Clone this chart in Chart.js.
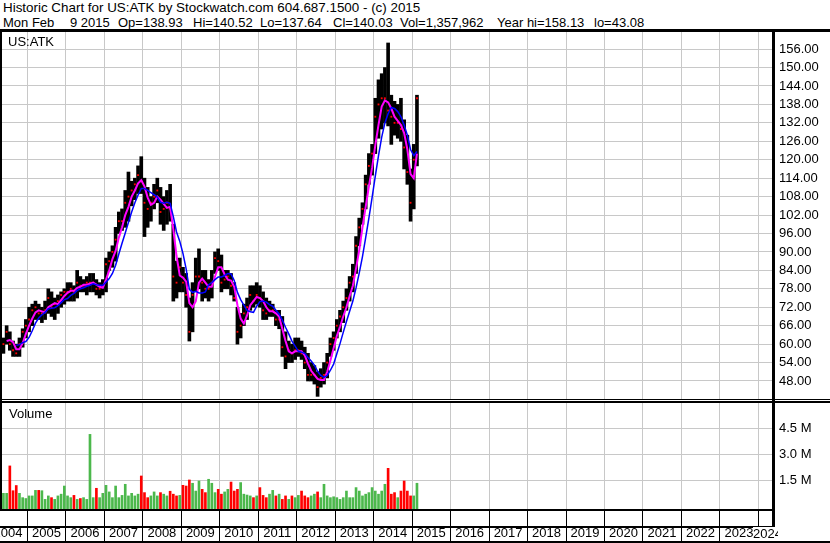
<!DOCTYPE html>
<html lang="en">
<head>
<meta charset="UTF-8">
<title>Historic Chart for US:ATK</title>
<script src="https://cdn.jsdelivr.net/npm/chart.js"></script>
<style>
  body { margin: 0; width: 830px; height: 543px; overflow: hidden; background: #fff; position: relative;
         font-family: "Liberation Sans", Arial, sans-serif; font-size: 13px; color: #000; }
  .abs { position: absolute; white-space: pre; line-height: 15px; }
  .ln { position: absolute; background: #000; }
</style>
</head>
<body>
<div class="abs" style="left:3px;top:0px;font-size:13.4px">Historic Chart for US:ATK by Stockwatch.com 604.687.1500 - (c) 2015</div>
<div class="abs" style="left:3px;top:15px">Mon Feb</div>
<div class="abs" style="left:70px;top:15px">9 2015</div>
<div class="abs" style="left:118px;top:15px">Op=138.93</div>
<div class="abs" style="left:193px;top:15px">Hi=140.52</div>
<div class="abs" style="left:260px;top:15px">Lo=137.64</div>
<div class="abs" style="left:333px;top:15px">Cl=140.03</div>
<div class="abs" style="left:400px;top:15px">Vol=1,357,962</div>
<div class="abs" style="left:497px;top:15px">Year hi=158.13</div>
<div class="abs" style="left:594px;top:15px">lo=43.08</div>

<div class="abs" style="left:-11px;top:32px"><canvas id="priceChart" width="841" height="367"></canvas></div>
<div class="abs" style="left:-11px;top:403px"><canvas id="volChart" width="841" height="140"></canvas></div>

<div class="abs" style="left:8px;top:34px">US:ATK</div>
<div class="abs" style="left:9px;top:406px">Volume</div>

<!-- frame lines -->
<div class="ln" style="left:0;top:29px;width:830px;height:3px"></div>
<div class="ln" style="left:0;top:32px;width:2px;height:478px"></div>
<div class="ln" style="left:772px;top:29px;width:3px;height:514px"></div>
<div class="ln" style="left:0;top:399px;width:830px;height:1px"></div>
<div class="ln" style="left:0;top:401px;width:830px;height:2px"></div>
<div class="ln" style="left:0;top:509px;width:773px;height:2px"></div>
<div class="ln" style="left:0;top:526px;width:773px;height:2px"></div>
<div class="ln" style="left:0;top:541px;width:830px;height:2px"></div>
<div class="abs" style="left:753px;top:527px;width:25px;height:14px;line-height:14px;overflow:hidden;background:#fff">2024</div>

<script>
// monthly bars, first month = Apr 2004, last = Feb 2015
const startYear = 2004;
const startMonth = 4;

const priceHigh = [
  61, 62, 66, 64, 61, 60, 62, 65, 68,                  // 2004
  72, 73, 74, 73, 72, 74, 78, 77, 75, 76, 77, 78,      // 2005
  80, 80, 79, 84, 82, 81, 82, 83, 83, 81, 80, 81,      // 2006
  88, 90, 92, 98, 103, 104, 110, 116, 113, 114, 118, 121, // 2007
  114, 111, 108, 112, 114, 111, 108, 110, 112, 99, 87, 88, // 2008
  85, 83, 75, 80, 88, 91, 84, 84, 81, 84, 90, 91,      // 2009
  89, 84, 84, 83, 80, 72, 70, 73, 75, 79, 79, 80,      // 2010
  79, 77, 75, 74, 73, 71, 71, 69, 64, 61, 60, 62,      // 2011
  62, 61, 59, 57, 54, 53, 51, 52, 54, 57, 62, 64,      // 2012
  68, 71, 74, 78, 82, 86, 95, 101, 106, 115, 122, 125, // 2013
  140, 146, 148, 150, 158, 141, 139, 138, 140, 133, 128, 117, // 2014
  125, 141                                             // 2015
];
const priceLow = [
  57, 57, 60, 58, 56, 56, 56, 59, 62,
  64, 66, 68, 68, 67, 68, 70, 69, 68, 70, 72, 73,
  74, 74, 74, 75, 77, 77, 76, 77, 77, 76, 75, 76,
  77, 84, 85, 87, 96, 97, 98, 100, 105, 107, 109, 109,
  95, 98, 100, 104, 106, 99, 97, 99, 100, 74, 75, 77,
  77, 72, 61, 64, 77, 78, 74, 75, 74, 75, 83, 84,
  77, 78, 78, 76, 74, 60, 62, 66, 68, 71, 72, 73,
  72, 68, 68, 69, 69, 66, 65, 56, 52, 54, 54, 55,
  56, 55, 52, 48, 48, 47, 43, 46, 47, 49, 56, 58,
  62, 64, 67, 71, 74, 77, 83, 92, 99, 104, 112, 115,
  122, 127, 130, 132, 131, 125, 128, 127, 126, 117, 112, 100,
  104, 118
];
const priceClose = [
  59, 60, 64, 60, 58, 57, 60, 64, 66,
  68, 71, 72, 70, 70, 71, 75, 72, 73, 74, 76, 77,
  77, 78, 77, 80, 79, 79, 80, 80, 80, 78, 78, 79,
  86, 87, 90, 94, 100, 100, 106, 108, 110, 112, 115, 113,
  106, 104, 106, 108, 110, 103, 104, 106, 104, 82, 80, 85,
  80, 76, 64, 76, 82, 82, 80, 78, 78, 80, 88, 87,
  80, 81, 82, 79, 75, 64, 66, 70, 72, 76, 74, 76,
  75, 71, 70, 71, 71, 68, 68, 59, 56, 58, 57, 58,
  58, 57, 54, 50, 50, 50, 46, 49, 50, 54, 60, 62,
  66, 69, 72, 75, 80, 82, 92, 98, 104, 112, 118, 122,
  134, 138, 140, 140, 136, 134, 132, 132, 130, 124, 116, 106,
  120, 140
];
// volume in millions of shares
const volume = [
  0.75, 0.75, 0.75, 2.33, 0.9, 1.2, 0.75, 0.5, 0.45,
  0.6, 0.6, 0.92, 0.92, 0.9, 0.4, 0.6, 0.5, 0.4, 0.6, 0.7, 1.17,
  0.6, 0.5, 0.63, 0.4, 0.45, 0.5, 0.4, 4.15, 0.5, 1.04, 0.5, 0.75,
  1.21, 0.83, 0.5, 1.17, 0.5, 0.63, 1.27, 0.6, 0.75, 0.6, 0.7, 1.75,
  0.79, 0.5, 0.6, 0.83, 0.6, 0.79, 0.7, 0.6, 0.87, 0.7, 0.6, 0.63,
  1.21, 1.17, 1.52, 1.33, 0.88, 1.46, 0.98, 0.79, 1.56, 1.33, 0.79, 0.98,
  0.7, 0.83, 0.98, 1.4, 0.88, 0.98, 1.37, 0.7, 0.65, 0.6, 0.5, 0.6,
  1.08, 0.63, 0.5, 0.7, 0.92, 0.6, 0.7, 0.4, 0.6, 0.4, 0.6, 0.5,
  0.63, 0.88, 0.6, 0.5, 0.6, 0.7, 0.83, 0.5, 1.27, 0.6, 0.5, 0.55,
  0.5, 0.4, 0.5, 0.88, 0.5, 0.5, 1.08, 0.88, 0.6, 0.7, 0.79, 1.08,
  0.88, 0.7, 0.88, 1.27, 2.19, 0.7, 0.79, 0.5, 0.88, 1.46, 0.88, 0.6,
  0.6, 1.33
];

const priceTicks = [48, 54, 60, 66, 72, 78, 84, 90, 96, 102, 108, 114, 120, 126, 132, 138, 144, 150, 156];
const volTicks = [1.5, 3.0, 4.5];
const yearTicks = [2004, 2005, 2006, 2007, 2008, 2009, 2010, 2011, 2012, 2013, 2014,
                   2015, 2016, 2017, 2018, 2019, 2020, 2021, 2022, 2023, 2024];

const X_MIN = 2004, X_MAX = 2024.38;
const PRICE_MIN = 42.14, PRICE_MAX = 161.57;
const VOL_MIN = -0.155, VOL_MAX = 5.96;

const FONT = { family: "'Liberation Sans', Arial, sans-serif", size: 13 };
const GRID = '#c8c8c8';

// x position (decimal year) of each monthly bar
const t = priceClose.map((_, i) => startYear + (startMonth - 1 + i + 0.5) / 12);

function sma(arr, n) {
  return arr.map((_, i) => {
    if (i < n - 1) return null;
    let s = 0;
    for (let k = i - n + 1; k <= i; k++) s += arr[k];
    return s / n;
  });
}
const maShort = sma(priceClose, 3);
const maLong = sma(priceClose, 6);

const pts = arr => arr.map((v, i) => ({ x: t[i], y: v }));
const setTicks = list => s => { s.ticks = list.map(v => ({ value: v })); };

new Chart(document.getElementById('priceChart'), {
  type: 'bar',
  data: {
    datasets: [
      {
        type: 'line', data: pts(maLong), borderColor: '#0000ff', borderWidth: 1.5,
        pointRadius: 0, tension: 0, order: 1
      },
      {
        type: 'line', data: pts(maShort), borderColor: '#ff00ff', borderWidth: 2,
        pointRadius: 0, tension: 0, order: 2
      },
      {
        type: 'line', data: pts(priceClose), showLine: false, pointStyle: 'rect',
        pointRadius: 1.3, pointBackgroundColor: '#ff0000', pointBorderWidth: 0, order: 3
      },
      {
        data: t.map((x, i) => ({ x: x, y: [priceLow[i], priceHigh[i]] })),
        backgroundColor: '#000', barThickness: 3, order: 4
      }
    ]
  },
  options: {
    responsive: false, animation: false, events: [],
    layout: { padding: 0, autoPadding: false },
    plugins: { legend: { display: false }, tooltip: { enabled: false } },
    scales: {
      x: {
        type: 'linear', min: X_MIN, max: X_MAX, offset: false,
        afterBuildTicks: setTicks(yearTicks),
        grid: { color: GRID, drawTicks: false, offset: false },
        border: { display: false },
        ticks: { display: false },
        afterFit: s => { s.height = 0; s.paddingLeft = 0; s.paddingRight = 0; }
      },
      y: {
        position: 'right', min: PRICE_MIN, max: PRICE_MAX,
        afterBuildTicks: setTicks(priceTicks),
        grid: { color: GRID, drawTicks: false },
        border: { display: false },
        ticks: { font: FONT, color: '#000', padding: 6, autoSkip: false, callback: v => v.toFixed(2) },
        afterFit: s => { s.width = 57; s.paddingTop = 0; s.paddingBottom = 0; }
      }
    }
  }
});

const volColors = priceClose.map((c, i) => (i === 0 || c >= priceClose[i - 1]) ? '#4cb84c' : '#ff0000');

new Chart(document.getElementById('volChart'), {
  type: 'bar',
  data: {
    datasets: [{
      data: pts(volume), backgroundColor: volColors, barThickness: 2, base: VOL_MIN
    }]
  },
  options: {
    responsive: false, animation: false, events: [],
    layout: { padding: 0, autoPadding: false },
    plugins: { legend: { display: false }, tooltip: { enabled: false } },
    scales: {
      x: {
        type: 'linear', min: X_MIN, max: X_MAX, offset: false,
        afterBuildTicks: setTicks(yearTicks),
        grid: { color: GRID, tickColor: '#000', drawTicks: true, tickLength: 34, offset: false },
        border: { display: false },
        ticks: {
          font: FONT, color: '#000', align: 'center', labelOffset: 19, padding: -17,
          autoSkip: false, maxRotation: 0, minRotation: 0,
          callback: v => (v === 2024 ? '' : String(v))
        },
        afterFit: s => { s.height = 34; s.paddingLeft = 0; s.paddingRight = 0; }
      },
      y: {
        position: 'right', min: VOL_MIN, max: VOL_MAX,
        afterBuildTicks: setTicks(volTicks),
        grid: { color: GRID, drawTicks: false },
        border: { display: false },
        ticks: { font: FONT, color: '#000', padding: 6, autoSkip: false, callback: v => v.toFixed(1) + ' M' },
        afterFit: s => { s.width = 57; s.paddingTop = 0; s.paddingBottom = 0; }
      }
    }
  }
});
</script>
</body>
</html>
